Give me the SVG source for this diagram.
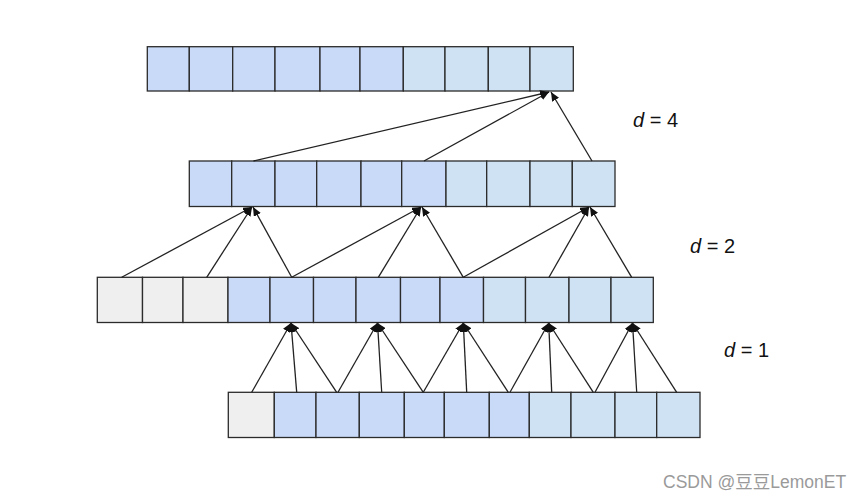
<svg xmlns="http://www.w3.org/2000/svg" width="863" height="498" viewBox="0 0 863 498">
<defs>
<style>
.c{stroke:#2b2b2b;stroke-width:1.3}
.b{fill:#c9daf8}
.l{fill:#cfe2f3}
.g{fill:#efefef}
.e{stroke:#222;stroke-width:1.3;fill:none;marker-end:url(#ah)}
.t{font-family:"Liberation Sans",Arial,sans-serif;font-size:20px;fill:#111}
.wm{font-family:"Liberation Sans","Noto Sans CJK SC",sans-serif;font-size:17.5px;fill:#9a9a9a}
</style>
<marker id="ah" markerUnits="userSpaceOnUse" markerWidth="10" markerHeight="8" refX="9" refY="4" orient="auto">
<path d="M0,0 L9,4 L0,8 Z" fill="#111"/>
</marker>
</defs>
<rect width="863" height="498" fill="#fff"/>
<g id="row1">
<rect class="c b" x="147.3" y="46.7" width="42" height="44.3"/>
<rect class="c b" x="189.3" y="46.7" width="43.4" height="44.3"/>
<rect class="c b" x="232.7" y="46.7" width="42.3" height="44.3"/>
<rect class="c b" x="275" y="46.7" width="45" height="44.3"/>
<rect class="c b" x="320" y="46.7" width="40" height="44.3"/>
<rect class="c b" x="360" y="46.7" width="43.3" height="44.3"/>
<rect class="c l" x="403.3" y="46.7" width="41.7" height="44.3"/>
<rect class="c l" x="445" y="46.7" width="43.3" height="44.3"/>
<rect class="c l" x="488.3" y="46.7" width="41.7" height="44.3"/>
<rect class="c l" x="530" y="46.7" width="43.3" height="44.3"/>
</g>
<g id="row2">
<rect class="c b" x="189.3" y="161" width="42.4" height="45.5"/>
<rect class="c b" x="231.7" y="161" width="43.3" height="45.5"/>
<rect class="c b" x="275" y="161" width="41.7" height="45.5"/>
<rect class="c b" x="316.7" y="161" width="44.3" height="45.5"/>
<rect class="c b" x="361" y="161" width="40.7" height="45.5"/>
<rect class="c b" x="401.7" y="161" width="44.3" height="45.5"/>
<rect class="c l" x="446" y="161" width="40.7" height="45.5"/>
<rect class="c l" x="486.7" y="161" width="43.3" height="45.5"/>
<rect class="c l" x="530" y="161" width="42.3" height="45.5"/>
<rect class="c l" x="572.3" y="161" width="42.7" height="45.5"/>
</g>
<g id="row3">
<rect class="c g" x="97.3" y="277.3" width="45.2" height="45.2"/>
<rect class="c g" x="142.5" y="277.3" width="40.5" height="45.2"/>
<rect class="c g" x="183" y="277.3" width="45" height="45.2"/>
<rect class="c b" x="228" y="277.3" width="42" height="45.2"/>
<rect class="c b" x="270" y="277.3" width="43.5" height="45.2"/>
<rect class="c b" x="313.5" y="277.3" width="42.5" height="45.2"/>
<rect class="c b" x="356" y="277.3" width="44.5" height="45.2"/>
<rect class="c b" x="400.5" y="277.3" width="39.5" height="45.2"/>
<rect class="c b" x="440" y="277.3" width="43.5" height="45.2"/>
<rect class="c l" x="483.5" y="277.3" width="42" height="45.2"/>
<rect class="c l" x="525.5" y="277.3" width="43.5" height="45.2"/>
<rect class="c l" x="569" y="277.3" width="42" height="45.2"/>
<rect class="c l" x="611" y="277.3" width="42.3" height="45.2"/>
</g>
<g id="row4">
<rect class="c g" x="228.3" y="392.3" width="46" height="45.2"/>
<rect class="c b" x="274.3" y="392.3" width="41.7" height="45.2"/>
<rect class="c b" x="316" y="392.3" width="43.3" height="45.2"/>
<rect class="c b" x="359.3" y="392.3" width="45" height="45.2"/>
<rect class="c b" x="404.3" y="392.3" width="40" height="45.2"/>
<rect class="c b" x="444.3" y="392.3" width="45" height="45.2"/>
<rect class="c b" x="489.3" y="392.3" width="40" height="45.2"/>
<rect class="c l" x="529.3" y="392.3" width="41.7" height="45.2"/>
<rect class="c l" x="571" y="392.3" width="44" height="45.2"/>
<rect class="c l" x="615" y="392.3" width="41.7" height="45.2"/>
<rect class="c l" x="656.7" y="392.3" width="43.3" height="45.2"/>
</g>
<g id="connectors">
<line class="e" x1="253.5" y1="161" x2="549" y2="92"/>
<line class="e" x1="424" y1="161" x2="549" y2="92"/>
<line class="e" x1="592" y1="161" x2="551" y2="92"/>
<line class="e" x1="121.7" y1="277.3" x2="252" y2="207"/>
<line class="e" x1="206.7" y1="277.3" x2="252" y2="207"/>
<line class="e" x1="291.7" y1="277.3" x2="253" y2="207"/>
<line class="e" x1="291.7" y1="277.3" x2="421" y2="207"/>
<line class="e" x1="378.3" y1="277.3" x2="421" y2="207"/>
<line class="e" x1="463.3" y1="277.3" x2="422" y2="207"/>
<line class="e" x1="463.3" y1="277.3" x2="589" y2="207"/>
<line class="e" x1="549" y1="277.3" x2="589" y2="207"/>
<line class="e" x1="631.7" y1="277.3" x2="590" y2="207"/>
<line class="e" x1="251.7" y1="392.3" x2="291" y2="323"/>
<line class="e" x1="296.7" y1="392.3" x2="291" y2="323"/>
<line class="e" x1="336.7" y1="392.3" x2="291" y2="323"/>
<line class="e" x1="338" y1="392.3" x2="377.5" y2="323"/>
<line class="e" x1="381.7" y1="392.3" x2="377.5" y2="323"/>
<line class="e" x1="423.3" y1="392.3" x2="377.5" y2="323"/>
<line class="e" x1="423.3" y1="392.3" x2="463.3" y2="323"/>
<line class="e" x1="466.7" y1="392.3" x2="463.3" y2="323"/>
<line class="e" x1="508.3" y1="392.3" x2="463.3" y2="323"/>
<line class="e" x1="510" y1="392.3" x2="548.7" y2="323"/>
<line class="e" x1="551.7" y1="392.3" x2="548.7" y2="323"/>
<line class="e" x1="593.3" y1="392.3" x2="548.7" y2="323"/>
<line class="e" x1="595" y1="392.3" x2="632.5" y2="323"/>
<line class="e" x1="636.7" y1="392.3" x2="632.5" y2="323"/>
<line class="e" x1="676.7" y1="392.3" x2="632.5" y2="323"/>
</g>
<g id="labels">
<text class="t" x="633" y="126.5"><tspan font-style="italic">d</tspan> = 4</text>
<text class="t" x="690" y="253"><tspan font-style="italic">d</tspan> = 2</text>
<text class="t" x="724" y="356.5"><tspan font-style="italic">d</tspan> = 1</text>
<text class="wm" x="663" y="488">CSDN @豆豆LemonET</text>
</g>
</svg>
